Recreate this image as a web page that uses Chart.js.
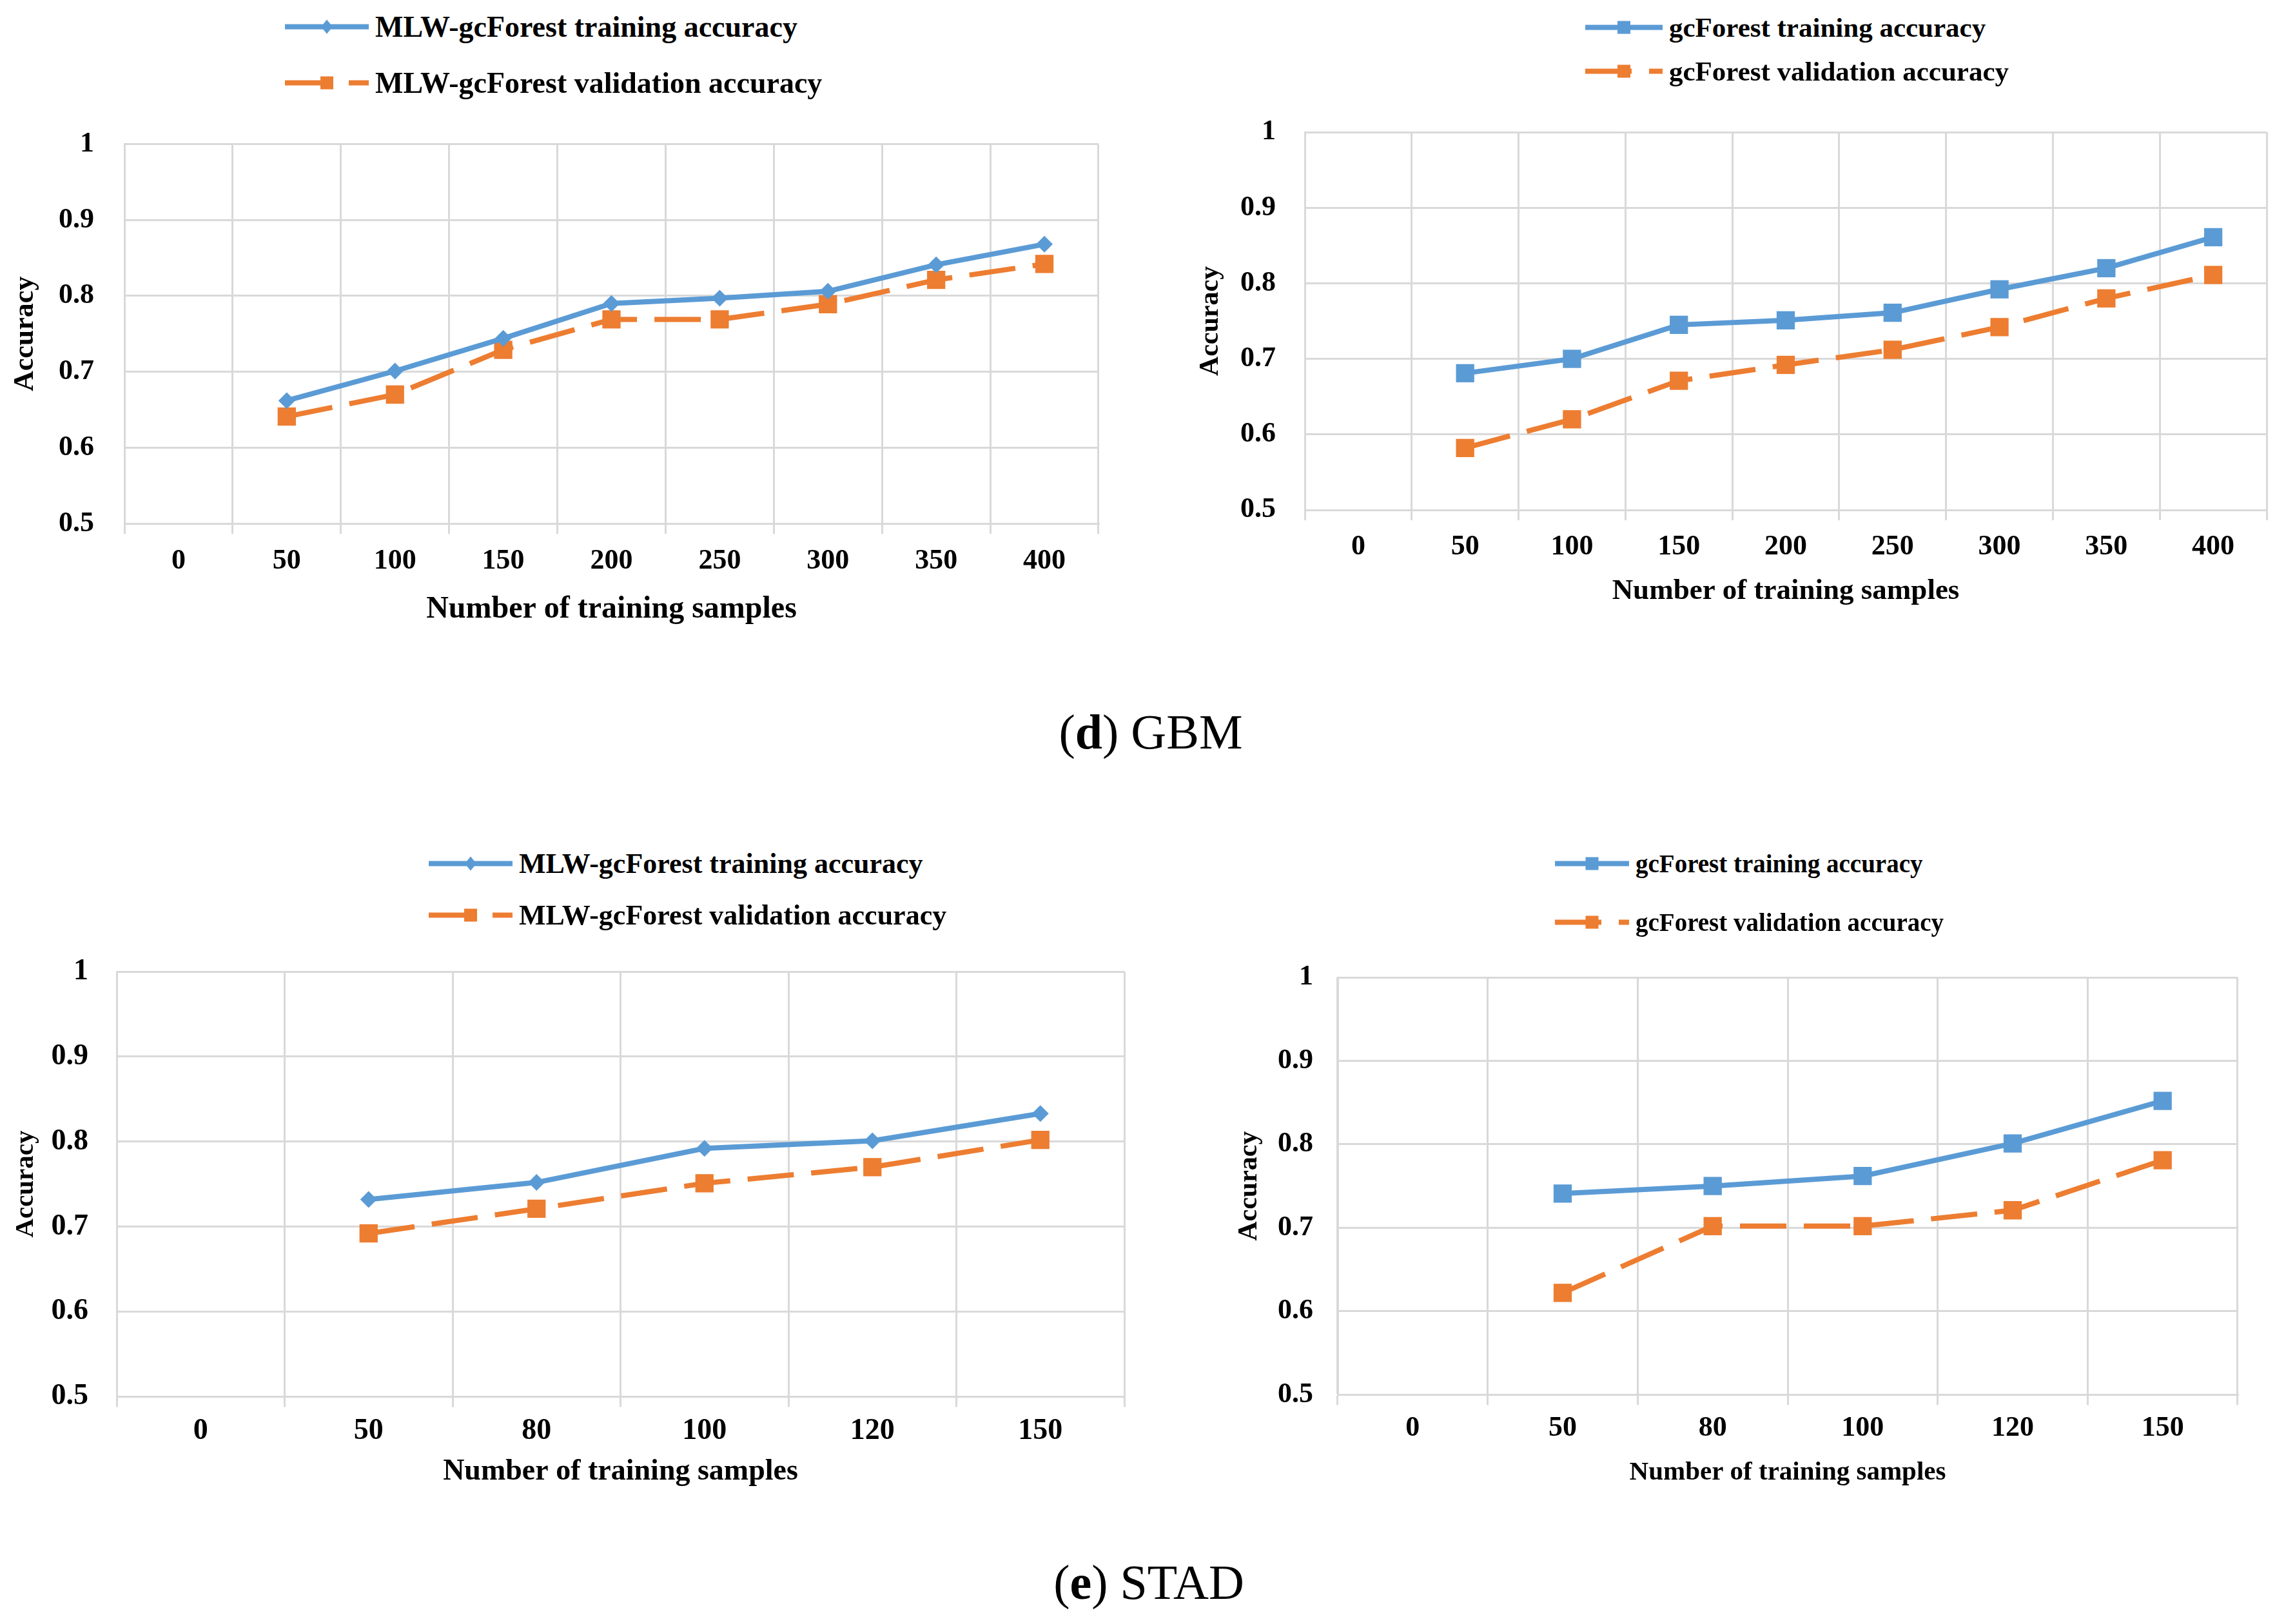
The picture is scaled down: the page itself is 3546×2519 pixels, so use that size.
<!DOCTYPE html>
<html>
<head>
<meta charset="utf-8">
<script src="https://cdn.jsdelivr.net/npm/chart.js@4/dist/chart.umd.min.js"></script>
<style>
  html, body { margin: 0; padding: 0; background: #fff; }
  body { width: 3546px; height: 2519px; position: relative; overflow: hidden; font-family: "Liberation Serif", serif; }
  canvas { position: absolute; }
  .row { position: absolute; display: flex; align-items: center; white-space: nowrap; color: #000; font-weight: bold; transform: translateY(-50%); }
  .row svg { display: block; margin-right: 10px; }
  .caption { position: absolute; font-size: 76px; color: #000; white-space: nowrap; transform: translate(-50%, -50%); }
</style>
</head>
<body>
<canvas id="gbmMlw"></canvas>
<canvas id="gbmGc"></canvas>
<canvas id="stadMlw"></canvas>
<canvas id="stadGc"></canvas>
<div class="caption" style="left:1785px; top:1135px;">(<b>d</b>) GBM</div>
<div class="caption" style="left:1782px; top:2454px;">(<b>e</b>) STAD</div>
<script>
// categories
const gbmLabels = ['0', '50', '100', '150', '200', '250', '300', '350', '400'];
const stadLabels = ['0', '50', '80', '100', '120', '150'];

// series values (nothing plotted at 0 samples)
const gbmMlwTrain = [null, 0.662, 0.701, 0.744, 0.790, 0.797, 0.806, 0.841, 0.868];
const gbmMlwValid = [null, 0.641, 0.670, 0.729, 0.769, 0.769, 0.789, 0.821, 0.842];
const gbmGcTrain = [null, 0.681, 0.700, 0.745, 0.751, 0.761, 0.792, 0.820, 0.861];
const gbmGcValid = [null, 0.582, 0.620, 0.671, 0.692, 0.712, 0.742, 0.780, 0.811];
const stadMlwTrain = [null, 0.732, 0.752, 0.792, 0.801, 0.833];
const stadMlwValid = [null, 0.692, 0.721, 0.751, 0.770, 0.802];
const stadGcTrain = [null, 0.741, 0.750, 0.762, 0.801, 0.852];
const stadGcValid = [null, 0.622, 0.702, 0.702, 0.721, 0.781];

// y axis ticks
const yTicks = [0.5, 0.6, 0.7, 0.8, 0.9, 1];
const yTickLabels = ['0.5', '0.6', '0.7', '0.8', '0.9', '1'];

const BLUE = '#5B9BD5';
const ORANGE = '#ED7D31';
const GRID = '#D9D9D9';
const FONT = '"Liberation Serif", serif';
const TICK_LEN = 16;
const TOP_ROOM = 72; // space kept above the plot inside each canvas

// where each panel sits on the page (plot box, label rows, font sizes)
const layouts = {
  gbmMlw: { L: 193, R: 1712, T: 222, B: 812, gap: 47, yTitleX: 40, xLabelY: 870, xTitleY: 945,
            tickFont: 44, titleFont: 48, yTitleFont: 44, legend: { x: 442, y: [41, 128], len: 130, font: 46 } },
  gbmGc: { L: 2024, R: 3524, T: 205, B: 791, gap: 45, yTitleX: 1878, xLabelY: 849, xTitleY: 917,
           tickFont: 44, titleFont: 45, yTitleFont: 42, legend: { x: 2459, y: [42, 110], len: 120, font: 43 } },
  stadMlw: { L: 181, R: 1752, T: 1507, B: 2166, gap: 44, yTitleX: 40, xLabelY: 2220, xTitleY: 2283,
             tickFont: 46, titleFont: 46, yTitleFont: 41, legend: { x: 665, y: [1339, 1419], len: 130, font: 44 } },
  stadGc: { L: 2075, R: 3479, T: 1516, B: 2163, gap: 38, yTitleX: 1938, xLabelY: 2215, xTitleY: 2284,
            tickFont: 44, titleFont: 41, yTitleFont: 42, legend: { x: 2412, y: [1339, 1430], len: 115, font: 39 } }
};

function trainSet(label, data, diamond) {
  return {
    label: label, data: data,
    borderColor: BLUE, backgroundColor: BLUE, borderWidth: 8,
    pointStyle: diamond ? 'rectRot' : 'rect', pointRadius: diamond ? 13 : 20,
    pointBackgroundColor: BLUE, pointBorderWidth: 0, tension: 0
  };
}

function validSet(label, data) {
  return {
    label: label, data: data,
    borderColor: ORANGE, backgroundColor: ORANGE, borderWidth: 8, borderDash: [72, 27],
    pointStyle: 'rect', pointRadius: 20,
    pointBackgroundColor: ORANGE, pointBorderWidth: 0, tension: 0
  };
}

function legendSample(ds, len) {
  const h = 30, mid = len / 2;
  let marker;
  if (ds.pointStyle === 'rectRot') {
    marker = `<polygon points="${mid},${h / 2 - 11} ${mid + 9},${h / 2} ${mid},${h / 2 + 11} ${mid - 9},${h / 2}" fill="${ds.borderColor}"/>`;
  } else {
    marker = `<rect x="${mid - 10}" y="${h / 2 - 10}" width="20" height="20" fill="${ds.borderColor}"/>`;
  }
  const dash = ds.borderDash ? ` stroke-dasharray="${ds.borderDash.join(' ')}"` : '';
  return `<svg width="${len}" height="${h}"><line x1="0" y1="${h / 2}" x2="${len}" y2="${h / 2}" stroke="${ds.borderColor}" stroke-width="8"${dash}/>${marker}</svg>`;
}

function makeChart(id, labels, datasets) {
  const g = layouts[id];
  const cx0 = g.yTitleX - 40;
  const padRight = 12;
  const titleLH = g.titleFont * 1.2;
  const xH = g.xTitleY - g.B + titleLH / 2 + 4;
  const canvas = document.getElementById(id);
  canvas.width = g.R - cx0 + padRight;
  canvas.height = Math.round((g.B - g.T) + TOP_ROOM + xH);
  canvas.style.left = cx0 + 'px';
  canvas.style.top = (g.T - TOP_ROOM) + 'px';
  canvas.style.width = canvas.width + 'px';
  canvas.style.height = canvas.height + 'px';

  new Chart(canvas.getContext('2d'), {
    type: 'line',
    data: { labels: labels, datasets: datasets },
    options: {
      responsive: false,
      animation: false,
      devicePixelRatio: 1,
      layout: { padding: { top: TOP_ROOM, right: padRight, left: 0, bottom: 0 } },
      plugins: { legend: { display: false }, tooltip: { enabled: false } },
      scales: {
        x: {
          type: 'category',
          offset: true,
          grid: { offset: true, color: GRID, lineWidth: 3, drawTicks: true, tickLength: TICK_LEN },
          border: { color: GRID, width: 3 },
          ticks: {
            color: '#000', font: { family: FONT, size: g.tickFont, weight: 'bold' },
            padding: g.xLabelY - g.B - TICK_LEN - g.tickFont * 0.6,
            maxRotation: 0, autoSkip: false
          },
          title: {
            display: true, text: 'Number of training samples', color: '#000',
            font: { family: FONT, size: g.titleFont, weight: 'bold' }, padding: { top: 0, bottom: 4 }
          },
          afterFit: function (s) { s.height = xH; }
        },
        y: {
          min: 0.5, max: 1,
          afterBuildTicks: function (s) { s.ticks = yTicks.map(v => ({ value: v })); },
          grid: { color: GRID, lineWidth: 3, drawTicks: false },
          border: { color: GRID, width: 3 },
          ticks: {
            color: '#000', font: { family: FONT, size: g.tickFont, weight: 'bold' }, padding: g.gap,
            callback: function (v, i) { return yTickLabels[i]; }
          },
          title: {
            display: true, text: 'Accuracy', color: '#000',
            font: { family: FONT, size: g.yTitleFont, weight: 'bold' },
            padding: { top: 40 - g.yTitleFont * 0.6, bottom: 0 }
          },
          afterFit: function (s) { s.width = g.L - cx0; }
        }
      }
    }
  });

  // legend, stacked in two rows like the original
  datasets.forEach(function (ds, i) {
    const row = document.createElement('div');
    row.className = 'row';
    row.style.left = g.legend.x + 'px';
    row.style.top = g.legend.y[i] + 'px';
    row.style.fontSize = g.legend.font + 'px';
    row.innerHTML = legendSample(ds, g.legend.len) + '<span>' + ds.label + '</span>';
    document.body.appendChild(row);
  });
}

makeChart('gbmMlw', gbmLabels, [
  trainSet('MLW-gcForest training accuracy', gbmMlwTrain, true),
  validSet('MLW-gcForest validation accuracy', gbmMlwValid)
]);
makeChart('gbmGc', gbmLabels, [
  trainSet('gcForest training accuracy', gbmGcTrain, false),
  validSet('gcForest validation accuracy', gbmGcValid)
]);
makeChart('stadMlw', stadLabels, [
  trainSet('MLW-gcForest training accuracy', stadMlwTrain, true),
  validSet('MLW-gcForest validation accuracy', stadMlwValid)
]);
makeChart('stadGc', stadLabels, [
  trainSet('gcForest training accuracy', stadGcTrain, false),
  validSet('gcForest validation accuracy', stadGcValid)
]);
</script>
</body>
</html>
